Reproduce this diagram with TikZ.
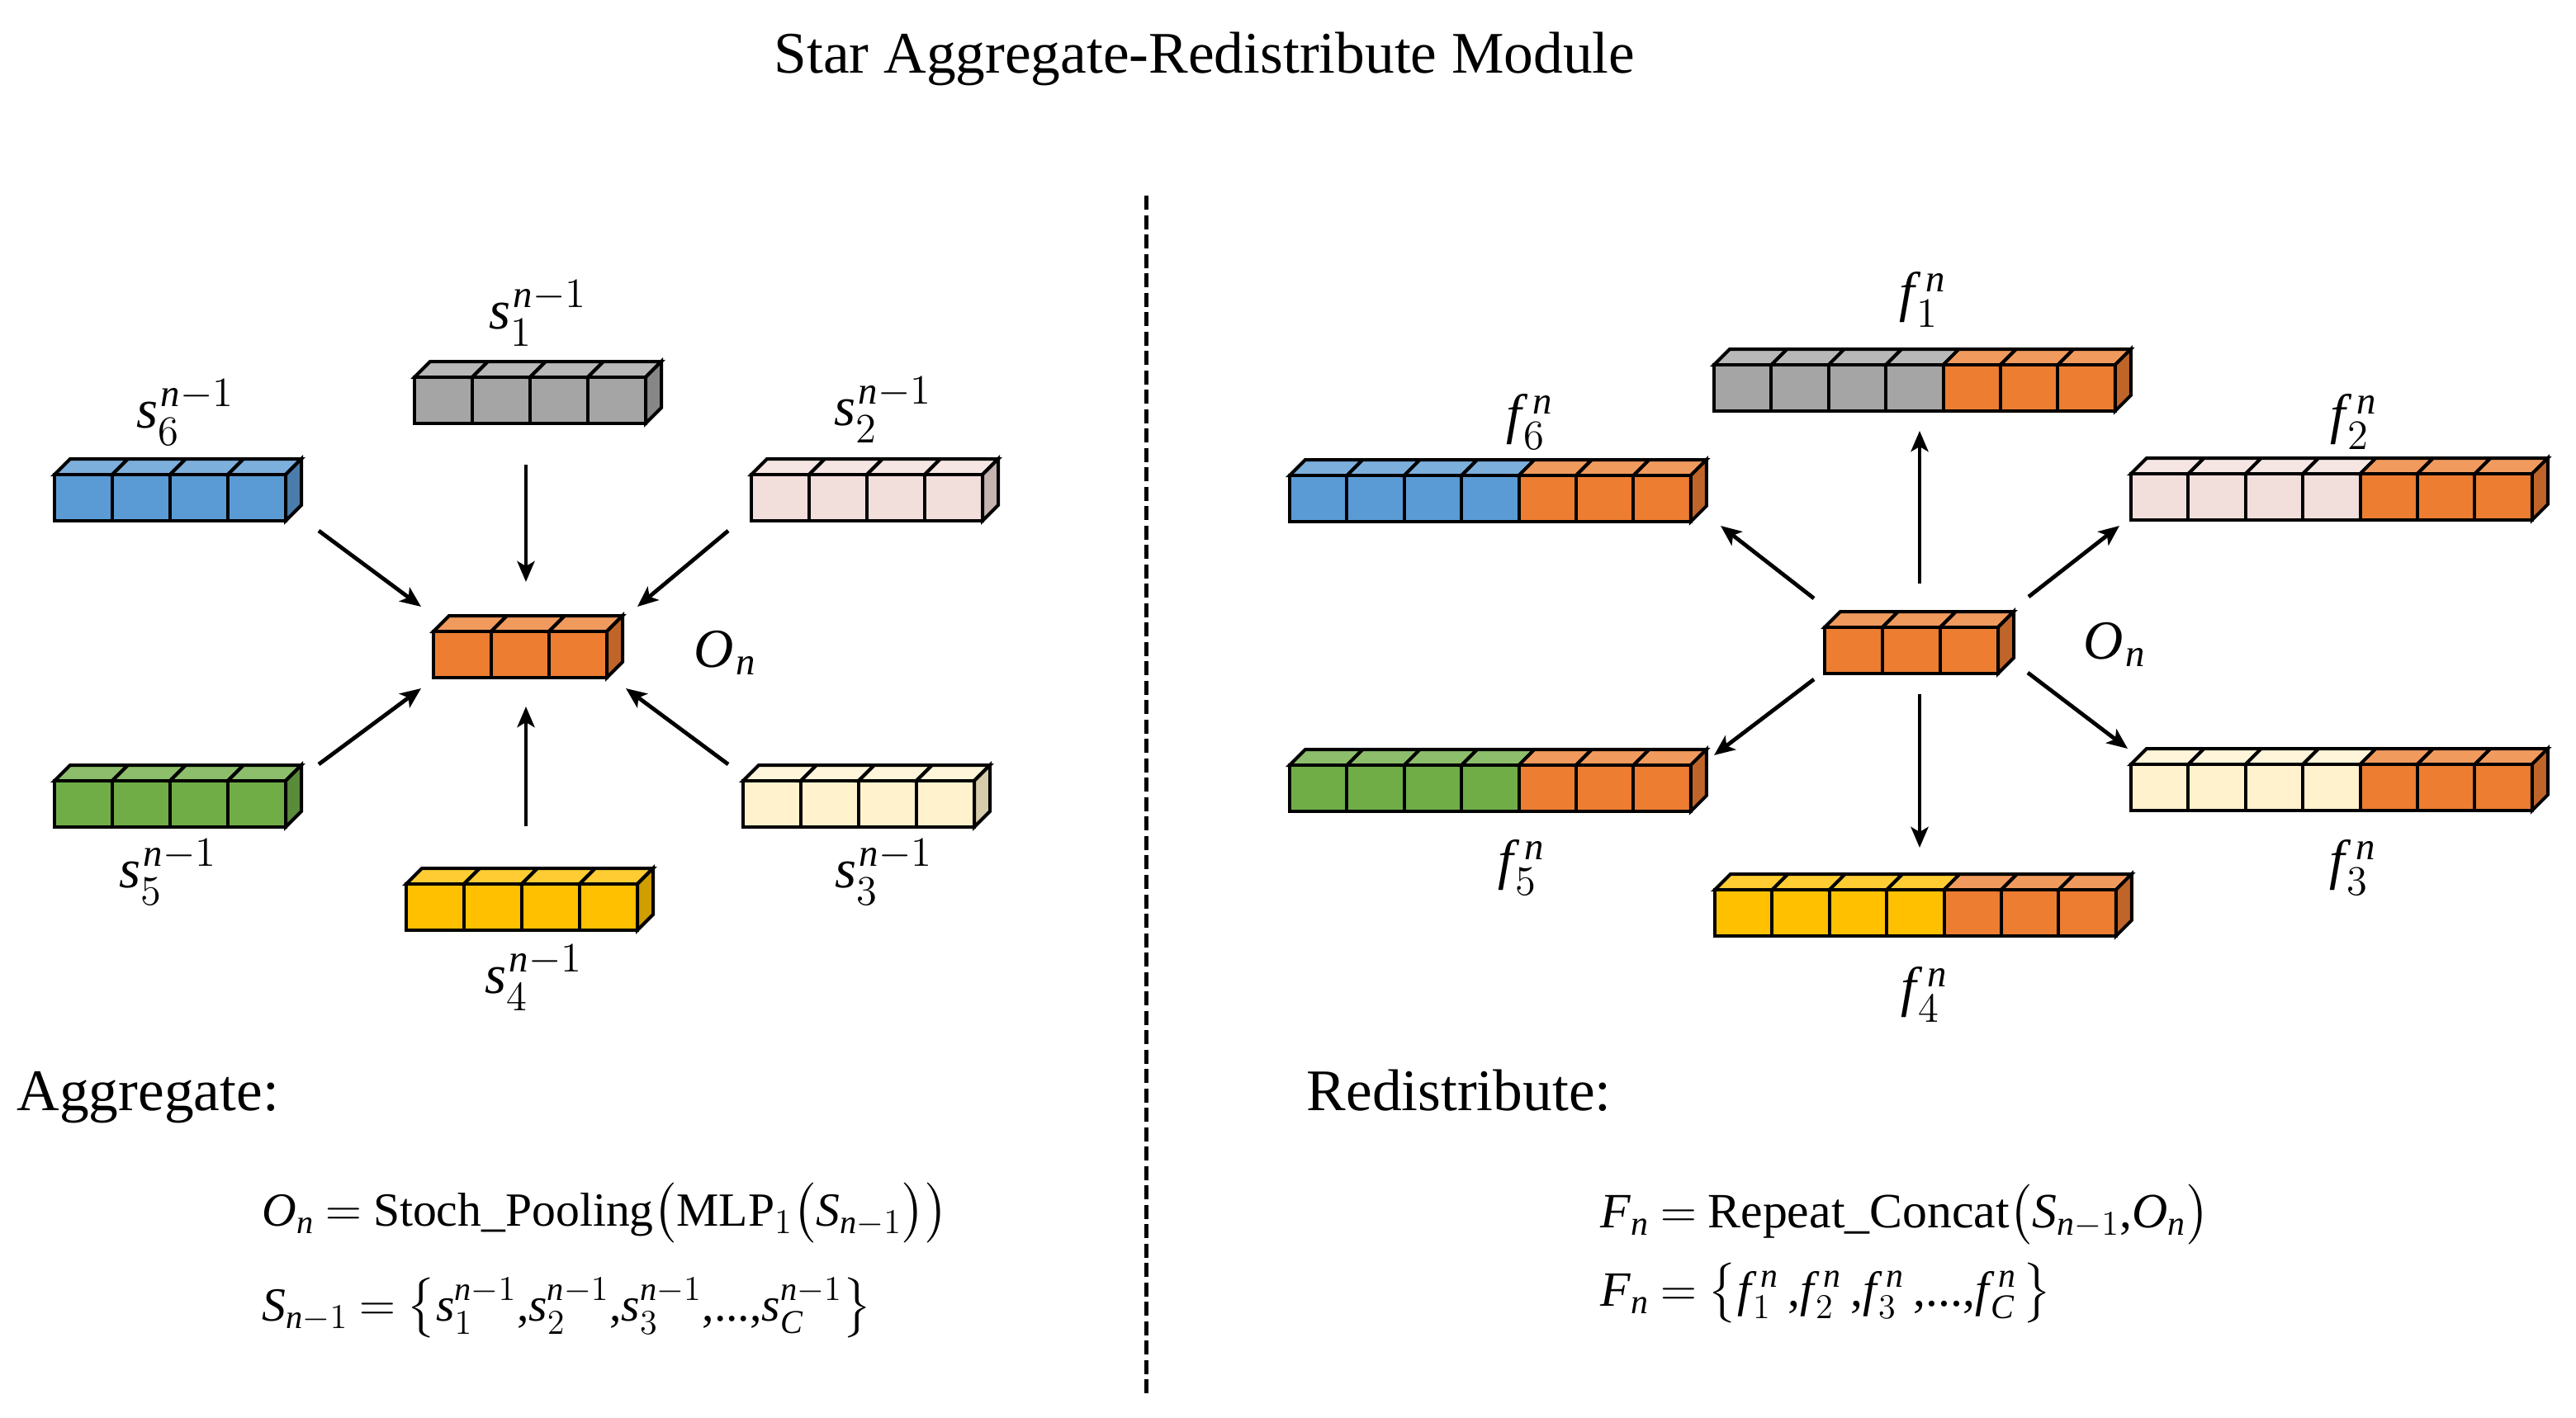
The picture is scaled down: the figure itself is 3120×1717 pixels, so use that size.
\documentclass[tikz,border=0pt]{standalone}
\usepackage{amsmath}
\usepackage{fontspec}
\setmainfont{Liberation Serif}
\usetikzlibrary{arrows.meta}
\definecolor{orF}{HTML}{ED7D31}\definecolor{orT}{HTML}{F19A5E}\definecolor{orS}{HTML}{C0652A}
\definecolor{grF}{HTML}{A5A5A5}\definecolor{grT}{HTML}{B8B8B8}\definecolor{grS}{HTML}{878787}
\definecolor{blF}{HTML}{5B9BD5}\definecolor{blT}{HTML}{7DAFDD}\definecolor{blS}{HTML}{4A7DAC}
\definecolor{pkF}{HTML}{F2DEDB}\definecolor{pkT}{HTML}{F5E6E3}\definecolor{pkS}{HTML}{C5B3B0}
\definecolor{gnF}{HTML}{70AD47}\definecolor{gnT}{HTML}{8DBE6C}\definecolor{gnS}{HTML}{5A8B39}
\definecolor{crF}{HTML}{FFF2CC}\definecolor{crT}{HTML}{FFF5DA}\definecolor{crS}{HTML}{D6CBAA}
\definecolor{ylF}{HTML}{FFC000}\definecolor{ylT}{HTML}{FFCD33}\definecolor{ylS}{HTML}{D19E00}
\newcommand{\dep}{19}
\newcommand{\hgt}{56}
\newcommand{\cuberow}[5]{%
  \foreach \i in {1,...,#4}{%
    \pgfmathsetmacro{\xa}{#1+(\i-1)*#3}%
    \pgfmathsetmacro{\xb}{#1+\i*#3}%
    \filldraw[cubeline, fill=#5T] (\xa,#2) -- (\xa+\dep,#2-\dep) -- (\xb+\dep,#2-\dep) -- (\xb,#2) -- cycle;
    \filldraw[cubeline, fill=#5F] (\xa,#2) rectangle (\xb,#2+\hgt);
  }%
}
\newcommand{\cubeside}[3]{%
  \pgfmathsetmacro{\xs}{#1}%
  \filldraw[cubeline, fill=#3S] (\xs,#2) -- (\xs+\dep,#2-\dep) -- (\xs+\dep,#2+\hgt-\dep) -- (\xs,#2+\hgt) -- cycle;
}
\newcommand{\plainbar}[5]{% x0, ytop, n, prefix
  \cuberow{#1}{#2}{70}{#3}{#4}%
  \cubeside{#1+#3*70}{#2}{#4}%
}
\newcommand{\featbar}[3]{% x0, ytop, prefix
  \cuberow{#1}{#2}{69.4}{4}{#3}%
  \cuberow{#1+277.6}{#2}{69.4}{3}{or}%
  \cubeside{#1+485.8}{#2}{or}%
}
\newcommand{\myit}[1]{\mathit{#1}}
% labels
\newcommand{\slab}[1]{\myit{s}_{#1}^{\mkern1mu\myit{n}-1}}
\newcommand{\flab}[1]{\myit{f}_{\mkern1mu #1}^{\mkern5mu\myit{n}}}
\newcommand{\sfl}[1]{\myit{s}_{#1}^{\myit{n}-1}}
\begin{document}
\begin{tikzpicture}[x=0.01cm,y=-0.01cm,
  cubeline/.style={draw=black, line width=0.04cm},
  arr/.style={line width=0.048cm, -{Stealth[length=0.25cm,width=0.21cm,inset=0.06cm]}},
  lab/.style={inner sep=0pt, font=\fontsize{19}{22}\selectfont},
  heading/.style={inner sep=0pt, font=\fontsize{20.3}{24}\selectfont},
  formula/.style={inner sep=0pt, anchor=base west, font=\fontsize{17}{21}\selectfont},
  lformula/.style={inner sep=0pt, anchor=base west, font=\fontsize{16.4}{20}\selectfont}]
\useasboundingbox (0,0) rectangle (3120,1717);

% title
\node[heading, anchor=base] (title) at (1459,88) {Star Aggregate-Redistribute Module};

% divider
\coordinate (divtop) at (1388,237);
\coordinate (divbot) at (1388,1690);
\draw[line width=0.05cm, dash pattern=on 0.17cm off 0.065cm] (divtop) -- (divbot);

% ---------- left: aggregate ----------
\plainbar{502}{457}{4}{gr}{}
\plainbar{66}{575}{4}{bl}{}
\plainbar{910}{575}{4}{pk}{}
\plainbar{66}{946}{4}{gn}{}
\plainbar{900}{946}{4}{cr}{}
\plainbar{492}{1071}{4}{yl}{}
\plainbar{525}{765}{3}{or}{}

\node[lab, anchor=base] (ls1) at (652,398) {$\slab{1}$};
\node[lab, anchor=base] (ls6) at (225,518) {$\slab{6}$};
\node[lab, anchor=base] (ls2) at (1070,515) {$\slab{2}$};
\node[lab, anchor=base] (ls5) at (204,1075) {$\slab{5}$};
\node[lab, anchor=base] (ls3) at (1071,1075) {$\slab{3}$};
\node[lab, anchor=base] (ls4) at (647,1203) {$\slab{4}$};
\node[lab, anchor=base] (lo) at (879,808) {$\myit{O}_{\mkern1mu\myit{n}}$};

\coordinate (a1s) at (637,563);  \coordinate (a1e) at (637,705);
\coordinate (a6s) at (386,643);  \coordinate (a6e) at (510,735);
\coordinate (a2s) at (882,643);  \coordinate (a2e) at (772,735);
\coordinate (a5s) at (386,926);  \coordinate (a5e) at (510,834);
\coordinate (a3s) at (882,926);  \coordinate (a3e) at (758,834);
\coordinate (a4s) at (637,1001); \coordinate (a4e) at (637,856);
\foreach \k in {1,2,3,4,5,6} \draw[arr] (a\k s) -- (a\k e);

% ---------- right: redistribute ----------
\featbar{2076}{442}{gr}
\featbar{1562}{576}{bl}
\featbar{2581}{574}{pk}
\featbar{1562}{927}{gn}
\featbar{2581}{926}{cr}
\featbar{2077}{1078}{yl}
\plainbar{2210}{760}{3}{or}{}

\node[lab, anchor=base] (lf1) at (2329,376) {$\flab{1}$};
\node[lab, anchor=base] (lf6) at (1853,524) {$\flab{6}$};
\node[lab, anchor=base] (lf2) at (2851,524) {$\flab{2}$};
\node[lab, anchor=base] (lf5) at (1843,1064) {$\flab{5}$};
\node[lab, anchor=base] (lf3) at (2850,1064) {$\flab{3}$};
\node[lab, anchor=base] (lf4) at (2331,1218) {$\flab{4}$};
\node[lab, anchor=base] (ro) at (2562,798) {$\myit{O}_{\mkern1mu\myit{n}}$};

\coordinate (b1s) at (2325,707);  \coordinate (b1e) at (2325,522);
\coordinate (b6s) at (2197,725);  \coordinate (b6e) at (2084,637);
\coordinate (b2s) at (2457,723);  \coordinate (b2e) at (2567,637);
\coordinate (b5s) at (2197,823);  \coordinate (b5e) at (2076,915);
\coordinate (b3s) at (2456,815);  \coordinate (b3e) at (2577,907);
\coordinate (b4s) at (2325,841);  \coordinate (b4e) at (2325,1027);
\foreach \k in {1,2,3,4,5,6} \draw[arr] (b\k s) -- (b\k e);

% ---------- bottom text ----------
\node[heading, anchor=base west] (agg) at (20,1345) {Aggregate:};
\node[heading, anchor=base west] (red) at (1582,1345) {Redistribute:};

\node[lformula] (eq1) at (317,1485)
  {$\thickmuskip=4mu\myit{O}_{\myit{n}} = \text{Stoch\_Pooling}\big(\text{MLP}_{1}\big(\myit{S}_{\myit{n}-1}\big)\big)$};
\node[lformula] (eq2) at (317,1600)
  {$\thickmuskip=4mu\myit{S}_{\myit{n}-1} = \big\{\sfl{1}\text{,}\sfl{2}\text{,}\sfl{3}\text{,...,}\sfl{\myit{C}}\big\}$};
\node[formula] (eq3) at (1938,1487)
  {$\thickmuskip=4mu\myit{F}_{\myit{n}} = \text{Repeat\_Concat}\big(\myit{S}_{\myit{n}-1}\text{,}\myit{O}_{\myit{n}}\big)$};
\node[formula] (eq4) at (1938,1582)
  {$\thickmuskip=4mu\myit{F}_{\myit{n}} = \big\{\flab{1}\mkern3mu\text{,}\flab{2}\mkern3mu\text{,}\flab{3}\mkern3mu\text{,...,}\flab{\myit{C}}\mkern2mu\big\}$};
\end{tikzpicture}
\end{document}
